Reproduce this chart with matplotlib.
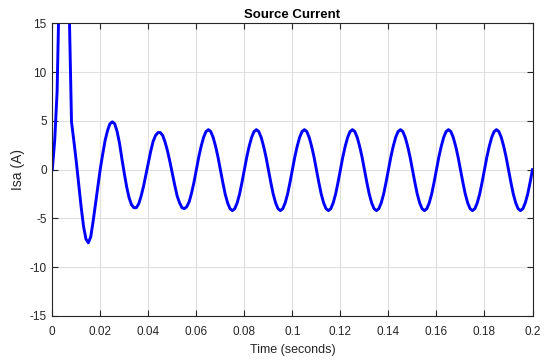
import numpy as np
import matplotlib
matplotlib.use("Agg")
import matplotlib.pyplot as plt

plt.rcParams['font.family'] = ['Liberation Sans', 'DejaVu Sans']
plt.rcParams['axes.unicode_minus'] = False

# Source current samples, one every millisecond from 0 to 0.2 s
dt = 0.001
isa = [
    # start-up transient (0 - 0.060 s)
    0.0, 3.0, 8.0, 20.0, 30.0, 34.0, 30.0, 17.0, 4.9, 2.9,
    0.8, -1.5, -3.8, -5.8, -7.1, -7.5, -6.9, -5.3, -3.5, -1.7,
    0.1, 1.6, 3.0, 4.0, 4.7, 4.9, 4.7, 3.9, 2.7, 1.1,
    -0.4, -1.8, -2.9, -3.6, -3.9, -3.9, -3.5, -2.7, -1.7, -0.5,
    0.7, 1.9, 2.9, 3.5, 3.8, 3.8, 3.5, 2.8, 1.9, 0.8,
    -0.4, -1.6, -2.7, -3.4, -3.9, -4.0, -3.8, -3.3, -2.4, -1.3,
    # steady state (0.060 - 0.200 s)
    0.0, 1.3, 2.4, 3.3, 3.9, 4.1, 3.9, 3.3, 2.4, 1.3,
    0.0, -1.3, -2.5, -3.4, -4.0, -4.2, -4.0, -3.4, -2.5, -1.3,
    0.0, 1.3, 2.4, 3.3, 3.9, 4.1, 3.9, 3.3, 2.4, 1.3,
    0.0, -1.3, -2.5, -3.4, -4.0, -4.2, -4.0, -3.4, -2.5, -1.3,
    0.0, 1.3, 2.4, 3.3, 3.9, 4.1, 3.9, 3.3, 2.4, 1.3,
    0.0, -1.3, -2.5, -3.4, -4.0, -4.2, -4.0, -3.4, -2.5, -1.3,
    0.0, 1.3, 2.4, 3.3, 3.9, 4.1, 3.9, 3.3, 2.4, 1.3,
    0.0, -1.3, -2.5, -3.4, -4.0, -4.2, -4.0, -3.4, -2.5, -1.3,
    0.0, 1.3, 2.4, 3.3, 3.9, 4.1, 3.9, 3.3, 2.4, 1.3,
    0.0, -1.3, -2.5, -3.4, -4.0, -4.2, -4.0, -3.4, -2.5, -1.3,
    0.0, 1.3, 2.4, 3.3, 3.9, 4.1, 3.9, 3.3, 2.4, 1.3,
    0.0, -1.3, -2.5, -3.4, -4.0, -4.2, -4.0, -3.4, -2.5, -1.3,
    0.0, 1.3, 2.4, 3.3, 3.9, 4.1, 3.9, 3.3, 2.4, 1.3,
    0.0, -1.3, -2.5, -3.4, -4.0, -4.2, -4.0, -3.4, -2.5, -1.3,
    0.0,
]
time = np.arange(len(isa)) * dt

x_ticks = [0, 0.02, 0.04, 0.06, 0.08, 0.1, 0.12, 0.14, 0.16, 0.18, 0.2]
x_labels = ["0", "0.02", "0.04", "0.06", "0.08", "0.1", "0.12", "0.14", "0.16", "0.18", "0.2"]
y_ticks = [-15, -10, -5, 0, 5, 10, 15]

ink = "#262626"

fig = plt.figure(figsize=(5.44, 3.6), dpi=100)
ax = fig.add_axes([52.3 / 544, 1 - 316 / 360, (532.5 - 52.3) / 544, (316 - 23.3) / 360])

ax.plot(time, isa, color=(0, 0, 1), linewidth=2.1, solid_joinstyle="round")

ax.set_xlim(0, 0.2)
ax.set_ylim(-15, 15)
ax.set_xticks(x_ticks)
ax.set_xticklabels(x_labels)
ax.set_yticks(y_ticks)
ax.grid(True, color="#dfdfdf", linewidth=0.8)
ax.set_axisbelow(True)

ax.tick_params(direction="in", length=4, width=0.8, colors=ink, labelsize=8.5,
               top=True, right=True)
ax.tick_params(axis="x", pad=7.5)
ax.tick_params(axis="y", pad=4)
for s in ax.spines.values():
    s.set_color(ink)
    s.set_linewidth(0.8)

ax.set_title("Source Current", fontsize=9.5, fontweight="bold", color="black", pad=4)
ax.set_xlabel("Time (seconds)", fontsize=9, color=ink, labelpad=4)
ax.set_ylabel("Isa (A)", fontsize=10, color=ink, labelpad=3)

fig.savefig("out.png", dpi=100)
